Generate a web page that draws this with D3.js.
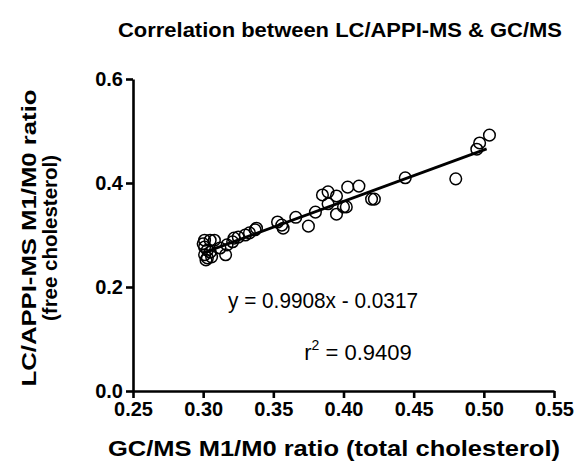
<!DOCTYPE html>
<html>
<head>
<meta charset="utf-8">
<script src="https://cdn.jsdelivr.net/npm/d3@7"></script>
<style>
  body { margin: 0; background: #fff; }
  svg { font-family: "Liberation Sans", Arial, sans-serif; }
</style>
</head>
<body>
<svg id="chart"></svg>
<script>
// GC/MS M1/M0 ratio (x) vs LC/APPI-MS M1/M0 ratio (y)
var gcms = [0.301, 0.305, 0.308, 0.301, 0.303, 0.301, 0.303, 0.306, 0.300, 0.302, 0.305,
            0.312, 0.316, 0.317, 0.321, 0.322, 0.325, 0.330, 0.333, 0.337, 0.338,
            0.353, 0.356, 0.357, 0.366, 0.375, 0.380, 0.385, 0.389, 0.389, 0.395,
            0.395, 0.400, 0.402, 0.403, 0.411, 0.420, 0.422, 0.444, 0.480, 0.495,
            0.497, 0.504]
var lcms = [0.290, 0.290, 0.290, 0.277, 0.271, 0.262, 0.256, 0.258, 0.283, 0.252, 0.267,
            0.275, 0.262, 0.281, 0.287, 0.294, 0.296, 0.300, 0.304, 0.310, 0.313,
            0.325, 0.319, 0.313, 0.334, 0.317, 0.344, 0.377, 0.383, 0.360, 0.375,
            0.340, 0.354, 0.354, 0.392, 0.394, 0.369, 0.369, 0.410, 0.408, 0.465,
            0.477, 0.492]

var slope = 0.9908
var intercept = -0.0317
var fitRange = [0.300, 0.502]

var xTicks = [0.25, 0.30, 0.35, 0.40, 0.45, 0.50, 0.55]
var yTicks = [0.0, 0.2, 0.4, 0.6]

var screen = {width: 576, height: 468}
var margins = {top: 79, right: 22, bottom: 77, left: 133}

var width = screen.width - margins.left - margins.right
var height = screen.height - margins.top - margins.bottom

var svg = d3.select("#chart")
    .attr("width", screen.width)
    .attr("height", screen.height)

var graph = svg.append("g")
    .attr("id", "graph")
    .attr("transform", "translate(" + margins.left + "," + margins.top + ")")

var xScale = d3.scaleLinear()
    .domain([0.25, 0.55])
    .range([0, width])
var yScale = d3.scaleLinear()
    .domain([0, 0.6])
    .range([height, 0])

var xAxis = d3.axisBottom(xScale)
    .tickValues(xTicks)
    .tickFormat(d3.format(".2f"))
    .tickSizeInner(7)
    .tickSizeOuter(0)
    .tickPadding(4)
var yAxis = d3.axisLeft(yScale)
    .tickValues(yTicks)
    .tickFormat(d3.format(".1f"))
    .tickSizeInner(7)
    .tickSizeOuter(0)
    .tickPadding(3)

graph.append("g")
    .attr("transform", "translate(0," + height + ")")
    .call(xAxis)
graph.append("g")
    .call(yAxis)

// heavy Prism-style axes
graph.selectAll(".domain, .tick line")
    .attr("stroke", "#000")
    .attr("stroke-width", 2.6)
graph.selectAll(".tick text")
    .attr("fill", "#000")
    .style("font-size", "20px")
    .style("font-weight", "bold")

// regression line
var lineGenerator = d3.line()
    .x(function(d) { return xScale(d) })
    .y(function(d) { return yScale(slope * d + intercept) })

graph.append("path")
    .datum(fitRange)
    .attr("d", lineGenerator)
    .attr("fill", "none")
    .attr("stroke", "#000")
    .attr("stroke-width", 2.8)

// points
graph.selectAll("circle")
    .data(gcms)
    .enter()
    .append("circle")
    .attr("cx", function(d) { return xScale(d) })
    .attr("cy", function(d, i) { return yScale(lcms[i]) })
    .attr("r", 5.8)
    .attr("fill", "none")
    .attr("stroke", "#000")
    .attr("stroke-width", 1.5)

// equation text
graph.append("text")
    .attr("x", 190)
    .attr("y", 229)
    .attr("text-anchor", "middle")
    .style("font-size", "22px")
    .attr("textLength", 190)
    .attr("lengthAdjust", "spacingAndGlyphs")
    .text("y = 0.9908x - 0.0317")

var r2 = graph.append("text")
    .attr("x", 225)
    .attr("y", 281)
    .attr("text-anchor", "middle")
    .style("font-size", "22px")
r2.append("tspan").text("r")
r2.append("tspan").attr("dy", -10).style("font-size", "14px").text("2")
r2.append("tspan").attr("dy", 10).text(" = 0.9409")

// titles
svg.append("text")
    .attr("x", 340)
    .attr("y", 37)
    .attr("text-anchor", "middle")
    .style("font-size", "21px")
    .style("font-weight", "bold")
    .attr("textLength", 444)
    .attr("lengthAdjust", "spacingAndGlyphs")
    .text("Correlation between LC/APPI-MS & GC/MS")

svg.append("text")
    .attr("x", 334)
    .attr("y", 456)
    .attr("text-anchor", "middle")
    .style("font-size", "22px")
    .style("font-weight", "bold")
    .attr("textLength", 452)
    .attr("lengthAdjust", "spacingAndGlyphs")
    .text("GC/MS M1/M0 ratio (total cholesterol)")

var ylab = svg.append("text")
    .attr("transform", "translate(0,238) rotate(-90)")
    .attr("text-anchor", "middle")
    .style("font-size", "21px")
    .style("font-weight", "bold")
ylab.append("tspan").attr("x", 0).attr("y", 36)
    .attr("textLength", 297)
    .attr("lengthAdjust", "spacingAndGlyphs")
    .text("LC/APPI-MS M1/M0 ratio")
ylab.append("tspan").attr("x", 0).attr("y", 57)
    .attr("textLength", 166)
    .attr("lengthAdjust", "spacingAndGlyphs")
    .text("(free cholesterol)")
</script>
</body>
</html>
